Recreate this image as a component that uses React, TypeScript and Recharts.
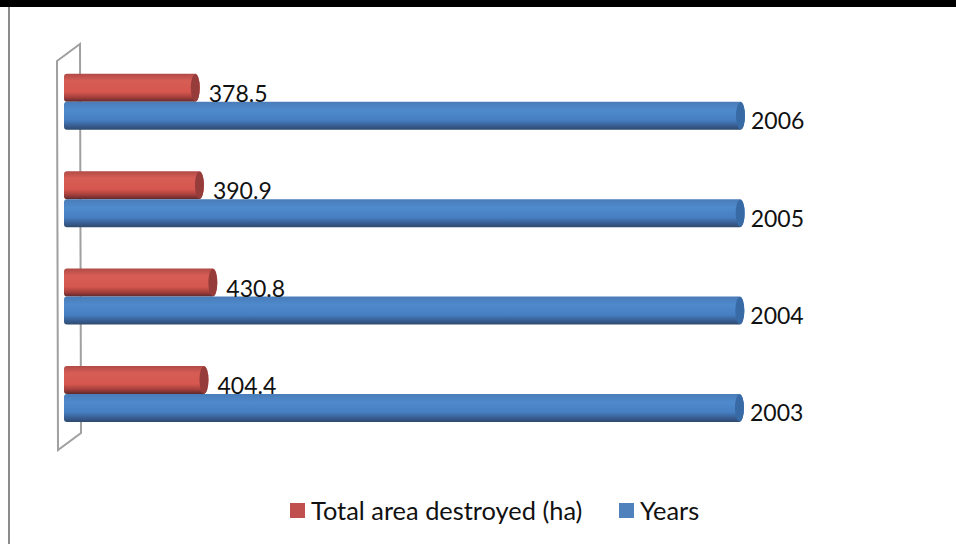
import { BarChart, Bar, XAxis, YAxis, Legend, LabelList } from 'recharts'

const years = [2006, 2005, 2004, 2003]
const areaDestroyed = [378.5, 390.9, 430.8, 404.4]

const chartData = years.map((y, i) => ({
  category: String(y),
  area: areaDestroyed[i],
  year: y,
}))

const FONT = 'Lato, sans-serif'

function Cylinder(props: any) {
  const { x, y, width, height, capFill, gradient } = props
  const left = x - 9
  const right = x + width
  const rx = 4.5
  const d = `M${left + 3},${y} L${right - rx},${y} A${rx},${height / 2} 0 0 1 ${right - rx},${y + height} L${left + 3},${y + height} Q${left},${y + height} ${left},${y + height - 3} L${left},${y + 3} Q${left},${y} ${left + 3},${y} Z`
  return (
    <g>
      <path d={d} fill={`url(#${gradient})`} />
      <ellipse cx={right - rx} cy={y + height / 2} rx={rx} ry={height / 2 - 0.5} fill={capFill} />
    </g>
  )
}

function valueLabel(props: any, dx: number, dy: number) {
  const { x, y, width, height, value } = props
  return (
    <text
      x={x + width + dx}
      y={y + height / 2 + dy}
      dominantBaseline="central"
      fontFamily={FONT}
      fontSize={23}
      fill="#111"
    >
      {value}
    </text>
  )
}

function LegendBox() {
  const swatch = (c: string) => (
    <span style={{ display: 'inline-block', width: 15, height: 15, background: c, marginRight: 6 }} />
  )
  return (
    <div style={{ position: 'absolute', left: 290, top: 492, width: 500, height: 36, display: 'flex', alignItems: 'center', fontFamily: FONT, fontSize: 25.4, color: '#111', whiteSpace: 'nowrap' }}>
      {swatch('#c0504d')}
      <span style={{ width: 308 }}>Total area destroyed (ha)</span>
      {swatch('#4f81bd')}
      <span>Years</span>
    </div>
  )
}

export default function App() {
  return (
    <div style={{ position: 'absolute', left: 0, top: 0, width: 956, height: 544, background: '#fff', overflow: 'hidden' }}>
      <div style={{ position: 'absolute', left: 0, top: 0, width: 956, height: 7, background: '#000' }} />
      <div style={{ position: 'absolute', left: 8, top: 7, width: 2, height: 537, background: '#8c8c8c' }} />
      {/* back wall of the 3d plot */}
      <svg width={956} height={544} style={{ position: 'absolute', left: 0, top: 0 }}>
        <path d="M57,61 L80,44 L81,433 L58,450 Z" fill="none" stroke="#a0a0a0" strokeWidth={2} />
      </svg>
      <BarChart
        width={956}
        height={544}
        data={chartData}
        layout="vertical"
        margin={{ top: 52.75, right: 211, bottom: 101.75, left: 73 }}
        barCategoryGap={20.75}
        barGap={0}
        style={{ position: 'absolute', left: 0, top: 0 }}
      >
        <defs>
          <linearGradient id="redCyl" x1="0" y1="0" x2="0" y2="1">
            <stop offset="0%" stopColor="#b04a46" />
            <stop offset="25%" stopColor="#d65d55" />
            <stop offset="65%" stopColor="#d6574f" />
            <stop offset="85%" stopColor="#a23e3b" />
            <stop offset="100%" stopColor="#5e2a2c" />
          </linearGradient>
          <linearGradient id="blueCyl" x1="0" y1="0" x2="0" y2="1">
            <stop offset="0%" stopColor="#4a7cb8" />
            <stop offset="30%" stopColor="#4e8acc" />
            <stop offset="65%" stopColor="#4780c2" />
            <stop offset="85%" stopColor="#385f94" />
            <stop offset="100%" stopColor="#2f4a6e" />
          </linearGradient>
        </defs>
        <XAxis type="number" domain={[0, 2006]} hide />
        <YAxis type="category" dataKey="category" hide />
        <Legend content={LegendBox} wrapperStyle={{ position: 'absolute', left: 0, top: 0, width: 0, height: 0 }} height={0} />
        <Bar
          dataKey="area"
          name="Total area destroyed (ha)"
          fill="#c0504d"
          barSize={28}
          isAnimationActive={false}
          shape={(p: any) => <Cylinder {...p} gradient="redCyl" capFill="#963c3a" />}
        >
          <LabelList dataKey="area" content={(p: any) => valueLabel(p, 9, 5)} />
        </Bar>
        <Bar
          dataKey="year"
          name="Years"
          fill="#4f81bd"
          barSize={28}
          isAnimationActive={false}
          shape={(p: any) => <Cylinder {...p} gradient="blueCyl" capFill="#386aa6" />}
        >
          <LabelList dataKey="year" content={(p: any) => valueLabel(p, 6, 4.5)} />
        </Bar>
      </BarChart>
    </div>
  )
}
